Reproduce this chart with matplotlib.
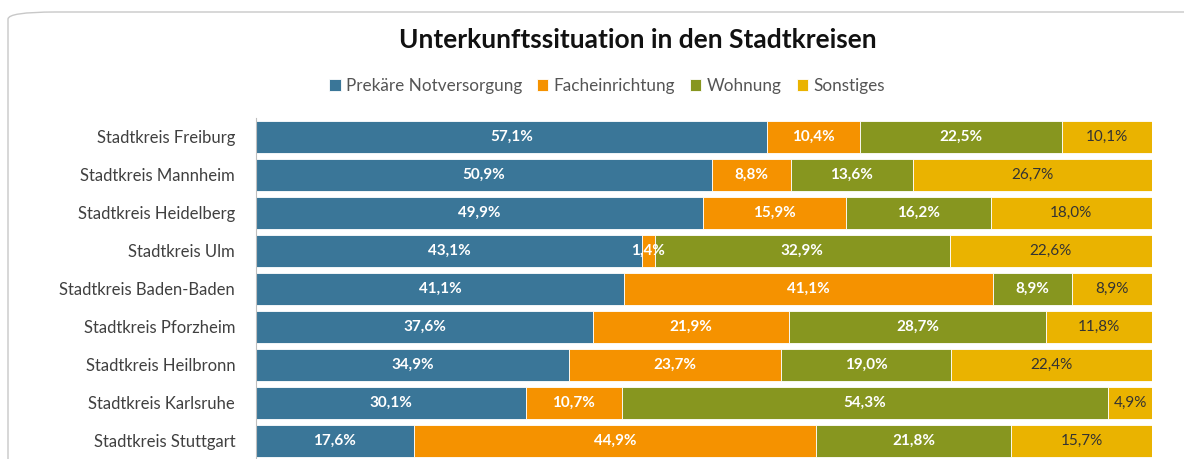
import matplotlib
matplotlib.use("Agg")
import matplotlib.pyplot as plt
from matplotlib.patches import FancyBboxPatch
import numpy as np

plt.rcParams['font.family'] = ['Lato', 'DejaVu Sans']

categories = ["Stadtkreis Freiburg", "Stadtkreis Mannheim", "Stadtkreis Heidelberg",
              "Stadtkreis Ulm", "Stadtkreis Baden-Baden", "Stadtkreis Pforzheim",
              "Stadtkreis Heilbronn", "Stadtkreis Karlsruhe", "Stadtkreis Stuttgart"]
series = ["Prekäre Notversorgung", "Facheinrichtung", "Wohnung", "Sonstiges"]
prekaer = [57.1, 50.9, 49.9, 43.1, 41.1, 37.6, 34.9, 30.1, 17.6]
fach = [10.4, 8.8, 15.9, 1.4, 41.1, 21.9, 23.7, 10.7, 44.9]
wohnung = [22.5, 13.6, 16.2, 32.9, 8.9, 28.7, 19.0, 54.3, 21.8]
sonstiges = [10.1, 26.7, 18.0, 22.6, 8.9, 11.8, 22.4, 4.9, 15.7]

colors = ["#3A7698", "#F59200", "#87961F", "#EAB300"]
text_colors = ["white", "white", "white", "#333333"]

fig = plt.figure(figsize=(11.84, 4.59), dpi=100)

# frame
frame = FancyBboxPatch((8 / 1184, -0.1), 1.2, (459 - 12) / 459 + 0.1,
                       boxstyle="round,pad=0,rounding_size=0.04",
                       transform=fig.transFigure, facecolor="none",
                       edgecolor="#C8C8C8", linewidth=1.0, mutation_aspect=459/1184,
                       zorder=-1)
fig.patches.append(frame)

ax = fig.add_axes([256 / 1184, 1 - 460 / 459, (1152 - 256) / 1184, (460 - 118) / 459])
ax.set_facecolor("none")

data = np.array([prekaer, fach, wohnung, sonstiges])
y = np.arange(len(categories))
left = np.zeros(len(categories))
totals = data.sum(axis=0)
for i, (name, vals) in enumerate(zip(series, data)):
    widths = vals / totals * 100
    ax.barh(y, widths, left=left, height=0.84, color=colors[i], label=name,
            edgecolor="white", linewidth=0.6)
    for j in range(len(categories)):
        ax.text(left[j] + widths[j] / 2, y[j], f"{vals[j]:.1f}%".replace(".", ","),
                ha="center", va="center", color=text_colors[i], fontsize=11,
                fontweight="bold" if i < 3 else "normal")
    left += widths

ax.set_xlim(0, 100)
ax.set_ylim(len(categories) - 0.5, -0.5)
ax.set_yticks(y)
ax.set_yticklabels(categories, fontsize=12, color="#404040")
ax.tick_params(axis="y", length=0, pad=15)
ax.set_xticks([])
for s in ["top", "right", "bottom"]:
    ax.spines[s].set_visible(False)
ax.spines["left"].set_color("#BFBFBF")

fig.text(638 / 1184, 1 - 40 / 459, "Unterkunftssituation in den Stadtkreisen",
         ha="center", va="center", fontsize=19, fontweight="bold", color="#111111")

handles, labels = ax.get_legend_handles_labels()
leg = fig.legend(handles, labels, loc="center", bbox_to_anchor=(607 / 1184, 1 - 86 / 459),
                 ncol=4, frameon=False, fontsize=12.3, handlelength=0.65, handleheight=0.65,
                 handletextpad=0.3, columnspacing=0.9)
for t in leg.get_texts():
    t.set_color("#555555")

fig.savefig("out.png", dpi=100)
